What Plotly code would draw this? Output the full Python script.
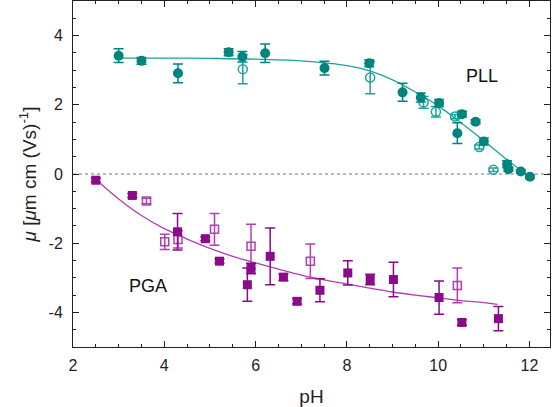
import plotly.graph_objects as go

# PLL filled circles
pll_f_x = [3.0, 3.5, 4.3, 5.41, 5.71, 6.21, 7.51, 8.49, 9.22, 9.62, 10.02, 10.42, 10.52, 10.82, 11.0, 11.51, 11.54, 11.81, 12.01]
pll_f_y = [3.42, 3.27, 2.91, 3.52, 3.39, 3.49, 3.06, 3.2, 2.36, 2.21, 2.05, 1.18, 1.73, 1.51, 0.94, 0.28, 0.14, 0.07, -0.08]
pll_f_e = [0.2, 0.1, 0.27, 0.1, 0.15, 0.27, 0.2, 0.1, 0.26, 0.13, 0.1, 0.3, 0.08, 0.06, 0.1, 0.1, 0.06, 0.05, 0.05]
# PLL open circles
pll_o_x = [5.72, 8.51, 9.68, 9.95, 10.37, 10.9, 11.21]
pll_o_y = [3.03, 2.79, 2.07, 1.80, 1.66, 0.78, 0.12]
pll_o_e = [0.42, 0.47, 0.17, 0.15, 0.06, 0.06, 0.05]
# PLL fit line
pll_fit_x = [3.0, 4.0, 5.0, 6.0, 7.0, 7.6, 8.0, 8.5, 9.0, 9.5, 10.0, 10.5, 11.0, 11.5, 12.0]
pll_fit_y = [3.35, 3.35, 3.34, 3.32, 3.27, 3.2, 3.13, 2.98, 2.72, 2.37, 1.97, 1.48, 0.96, 0.42, -0.07]

# PGA filled squares
pga_f_x = [2.5, 3.3, 4.29, 4.9, 5.21, 5.82, 5.9, 6.32, 6.61, 6.91, 7.41, 8.02, 8.51, 9.02, 10.02, 10.52, 11.32]
pga_f_y = [-0.18, -0.62, -1.67, -1.87, -2.52, -3.2, -2.73, -2.38, -2.98, -3.68, -3.36, -2.86, -3.05, -3.05, -3.57, -4.29, -4.18]
pga_f_e = [0.06, 0.06, 0.53, 0.06, 0.06, 0.48, 0.15, 0.82, 0.1, 0.08, 0.33, 0.35, 0.15, 0.5, 0.48, 0.08, 0.35]
# PGA open squares
pga_o_x = [3.61, 4.01, 4.3, 5.1, 5.9, 7.2, 10.42]
pga_o_y = [-0.78, -1.96, -1.89, -1.60, -2.09, -2.52, -3.22]
pga_o_e = [0.08, 0.22, 0.25, 0.46, 0.64, 0.5, 0.5]
# PGA fit line
pga_fit_x = [2.52, 3.0, 3.5, 4.0, 4.5, 5.0, 5.5, 6.0, 6.5, 7.0, 7.5, 8.0, 8.5, 9.0, 9.5, 10.0, 10.5, 11.0, 11.3]
pga_fit_y = [-0.18, -0.72, -1.2, -1.58, -1.88, -2.15, -2.38, -2.57, -2.75, -2.92, -3.06, -3.18, -3.3, -3.41, -3.5, -3.58, -3.66, -3.72, -3.77]

x_ticks = [2, 4, 6, 8, 10, 12]
y_ticks = [-4, -2, 0, 2, 4]
y_tick_text = ["-4", "-2", "0", "2", "4"]

TEAL = "#00857e"
TEAL_L = "#1ea39b"
PURP = "#8a0a8a"
PURP_L = "#b23fb2"
FONT = "Liberation Sans"

fig = go.Figure()

# zero dotted line
fig.add_trace(go.Scatter(x=[2, 12.45], y=[0, 0], mode="lines",
                         line=dict(color="#777777", width=1, dash="dot"),
                         hoverinfo="skip", showlegend=False))

fig.add_trace(go.Scatter(x=pll_fit_x, y=pll_fit_y, mode="lines", line=dict(color=TEAL_L, width=1.3, shape="spline"), showlegend=False))
fig.add_trace(go.Scatter(x=pga_fit_x, y=pga_fit_y, mode="lines", line=dict(color=PURP_L, width=1.3, shape="spline"), showlegend=False))

fig.add_trace(go.Scatter(x=pll_o_x, y=pll_o_y, mode="markers",
                         marker=dict(symbol="circle-open", size=9, color=TEAL_L, line=dict(width=1.5)),
                         error_y=dict(type="data", array=pll_o_e, color=TEAL_L, thickness=1.5, width=5),
                         showlegend=False))
fig.add_trace(go.Scatter(x=pll_f_x, y=pll_f_y, mode="markers",
                         marker=dict(symbol="circle", size=10, color=TEAL),
                         error_y=dict(type="data", array=pll_f_e, color=TEAL, thickness=1.5, width=5),
                         showlegend=False))
fig.add_trace(go.Scatter(x=pga_o_x, y=pga_o_y, mode="markers",
                         marker=dict(symbol="square-open", size=8, color=PURP_L, line=dict(width=1.5)),
                         error_y=dict(type="data", array=pga_o_e, color=PURP_L, thickness=1.5, width=5),
                         showlegend=False))
fig.add_trace(go.Scatter(x=pga_f_x, y=pga_f_y, mode="markers",
                         marker=dict(symbol="square", size=9, color=PURP),
                         error_y=dict(type="data", array=pga_f_e, color=PURP, thickness=1.5, width=5),
                         showlegend=False))

fig.add_annotation(x=10.95, y=2.84, text="PLL", showarrow=False, font=dict(family=FONT, size=18, color="#111111"))
fig.add_annotation(x=3.65, y=-3.25, text="PGA", showarrow=False, font=dict(family=FONT, size=18, color="#111111"))

axis_common = dict(showgrid=False, zeroline=False, showline=True, linecolor="#222222", linewidth=1,
                   mirror="ticks", ticks="inside", ticklen=6, tickcolor="#222222", automargin=False,
                   tickfont=dict(family=FONT, size=16, color="#222222"))

fig.update_xaxes(range=[2, 12.45], tickvals=x_ticks, ticklabelstandoff=4,
                 minor=dict(dtick=0.5, tick0=2, ticks="inside", ticklen=3, tickcolor="#222222"),
                 title=dict(text="pH", font=dict(family=FONT, size=19, color="#222222"), standoff=16),
                 **axis_common)
fig.update_yaxes(range=[-5, 5], tickvals=y_ticks, ticktext=y_tick_text, ticklabelstandoff=6,
                 minor=dict(dtick=0.5, tick0=0, ticks="inside", ticklen=3, tickcolor="#222222"),
                 title=dict(text="<i>μ</i> [<i>μ</i>m cm (Vs)<sup>-1</sup>]",
                            font=dict(family=FONT, size=19, color="#222222"), standoff=6),
                 **axis_common)

fig.update_layout(width=555, height=407, margin=dict(l=73, r=5, t=1, b=60),
                  font=dict(family=FONT),
                  plot_bgcolor="white", paper_bgcolor="white", showlegend=False)

fig.write_html("out.html", config={"displayModeBar": False},
               post_script="document.body.style.margin='0';")
